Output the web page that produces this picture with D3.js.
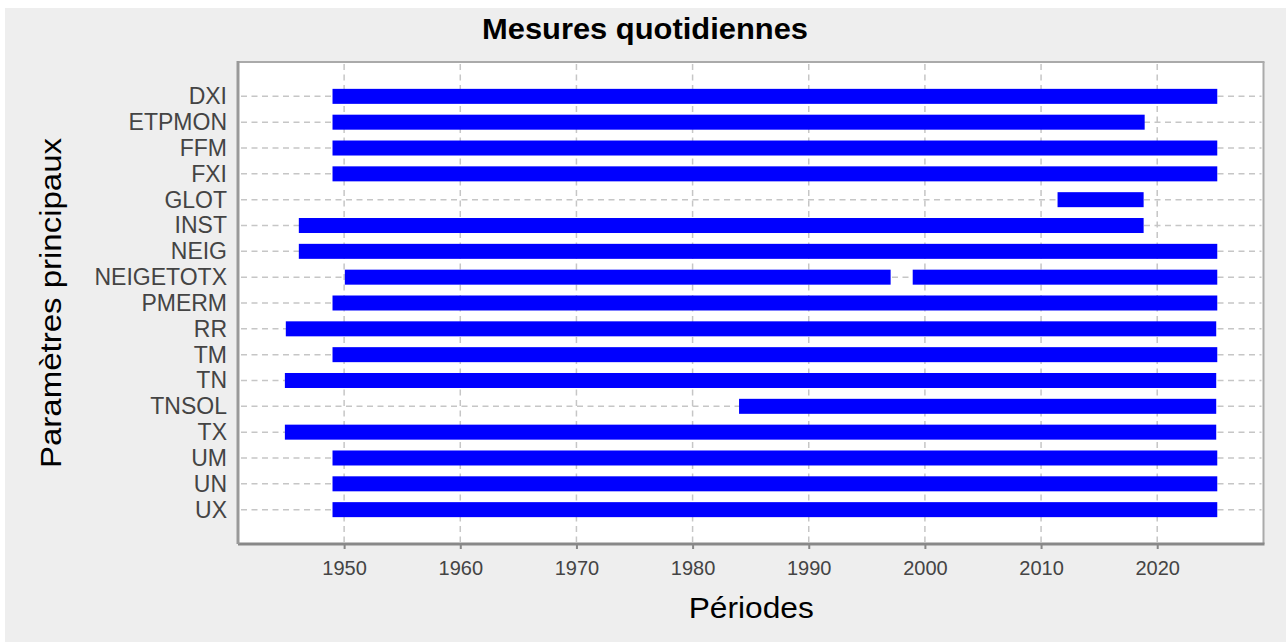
<!DOCTYPE html>
<html lang="fr">

<head>
  <meta charset="UTF-8" />
  <title>Mesures quotidiennes</title>
  <script src="https://cdn.jsdelivr.net/npm/d3@7"></script>
  <style>
    body { margin: 0; background: #fff; }
    text { font-family: "Liberation Sans", Arial, sans-serif; }
  </style>
</head>

<body>
  <svg id="svg"></svg>
</body>

<script>
  // paramètres (axe vertical, de haut en bas)
  const params = ["DXI", "ETPMON", "FFM", "FXI", "GLOT", "INST", "NEIG", "NEIGETOTX",
    "PMERM", "RR", "TM", "TN", "TNSOL", "TX", "UM", "UN", "UX"];

  // périodes de mesure (un segment par ligne, NEIGETOTX a une lacune)
  const segParam = ["DXI", "ETPMON", "FFM", "FXI", "GLOT", "INST", "NEIG", "NEIGETOTX", "NEIGETOTX",
    "PMERM", "RR", "TM", "TN", "TNSOL", "TX", "UM", "UN", "UX"];
  const segStart = [1949.0, 1949.0, 1949.0, 1949.0, 2011.42, 1946.1, 1946.1, 1950.06, 1998.95,
    1949.0, 1944.98, 1949.0, 1944.9, 1984.0, 1944.9, 1949.0, 1949.0, 1949.0];
  const segEnd = [2025.17, 2018.92, 2025.17, 2025.17, 2018.83, 2018.83, 2025.17, 1997.05, 2025.17,
    2025.17, 2025.08, 2025.17, 2025.08, 2025.08, 2025.08, 2025.17, 2025.17, 2025.17];

  const xTicks = [1950, 1960, 1970, 1980, 1990, 2000, 2010, 2020];

  const width = 1286;
  const height = 642;
  const plot = { left: 239, top: 62, right: 1263.5, bottom: 544 };

  const svg = d3.select("#svg").attr("width", width).attr("height", height)
    .style("display", "block");

  // fond gris
  svg.append("rect").attr("x", 5).attr("y", 8)
    .attr("width", width - 5).attr("height", height - 8).attr("fill", "#eeeeee");

  svg.append("rect")
    .attr("x", plot.left).attr("y", plot.top)
    .attr("width", plot.right - plot.left).attr("height", plot.bottom - plot.top)
    .attr("fill", "#ffffff");

  const xScale = d3.scaleLinear()
    .domain([1940.95, 2029.15])
    .range([plot.left, plot.right]);

  const yScale = d3.scalePoint()
    .domain(params)
    .range([plot.top, plot.bottom])
    .padding(1.33);

  // grille
  const grid = svg.append("g")
    .attr("stroke", "#c6c6c6").attr("stroke-width", 1.5).attr("stroke-dasharray", "6,4.5");
  xTicks.forEach((t) => {
    grid.append("line")
      .attr("x1", xScale(t)).attr("x2", xScale(t))
      .attr("y1", plot.top + 2).attr("y2", plot.bottom - 2);
  });
  params.forEach((p) => {
    grid.append("line")
      .attr("x1", plot.left + 2).attr("x2", plot.right - 2)
      .attr("y1", yScale(p)).attr("y2", yScale(p));
  });

  // barres
  const barH = 15;
  segParam.forEach((p, i) => {
    svg.append("rect")
      .attr("x", xScale(segStart[i]))
      .attr("y", yScale(p) - barH / 2)
      .attr("width", xScale(segEnd[i]) - xScale(segStart[i]))
      .attr("height", barH)
      .attr("fill", "#0000ff");
  });

  // cadre
  svg.append("line").attr("x1", plot.left).attr("x2", plot.right + 1)
    .attr("y1", plot.top).attr("y2", plot.top)
    .attr("stroke", "#aaaaaa").attr("stroke-width", 2);
  svg.append("line").attr("x1", plot.right).attr("x2", plot.right)
    .attr("y1", plot.top).attr("y2", plot.bottom)
    .attr("stroke", "#aaaaaa").attr("stroke-width", 2);

  // axe x
  const xAxis = d3.axisBottom(xScale).tickValues(xTicks).tickFormat(d3.format("d"))
    .tickSizeInner(5).tickSizeOuter(0).tickPadding(12);
  const gx = svg.append("g").attr("transform", `translate(0, ${plot.bottom})`).call(xAxis);
  gx.select(".domain").remove();
  gx.selectAll(".tick line").attr("stroke", "#888888").attr("stroke-width", 2);
  gx.selectAll(".tick text").attr("fill", "#444444").attr("font-size", "20px")
    .attr("font-family", "Liberation Sans, Arial, sans-serif");

  // axe y
  const yAxis = d3.axisLeft(yScale).tickSize(0).tickPadding(12);
  const gy = svg.append("g").attr("transform", `translate(${plot.left}, 0)`).call(yAxis);
  gy.select(".domain").remove();
  gy.selectAll(".tick text").attr("fill", "#444444").attr("font-size", "23px")
    .attr("font-family", "Liberation Sans, Arial, sans-serif");

  svg.append("line").attr("x1", plot.left - 1).attr("x2", plot.right + 1)
    .attr("y1", plot.bottom).attr("y2", plot.bottom)
    .attr("stroke", "#888888").attr("stroke-width", 3);
  svg.append("line").attr("x1", plot.left - 1).attr("x2", plot.left - 1)
    .attr("y1", plot.top - 1).attr("y2", plot.bottom)
    .attr("stroke", "#999999").attr("stroke-width", 3);

  // titres
  svg.append("text")
    .text("Mesures quotidiennes")
    .attr("x", 645).attr("y", 39)
    .attr("text-anchor", "middle")
    .attr("font-size", "30px").attr("font-weight", "bold")
    .attr("textLength", 326).attr("lengthAdjust", "spacingAndGlyphs");

  svg.append("text")
    .text("Périodes")
    .attr("x", (plot.left + plot.right) / 2).attr("y", 618)
    .attr("text-anchor", "middle")
    .attr("font-size", "30px")
    .attr("textLength", 125).attr("lengthAdjust", "spacingAndGlyphs");

  svg.append("text")
    .text("Paramètres principaux")
    .attr("transform", `translate(61, ${(plot.top + plot.bottom) / 2}) rotate(-90)`)
    .attr("text-anchor", "middle")
    .attr("font-size", "30px")
    .attr("textLength", 330).attr("lengthAdjust", "spacingAndGlyphs");
</script>

</html>
